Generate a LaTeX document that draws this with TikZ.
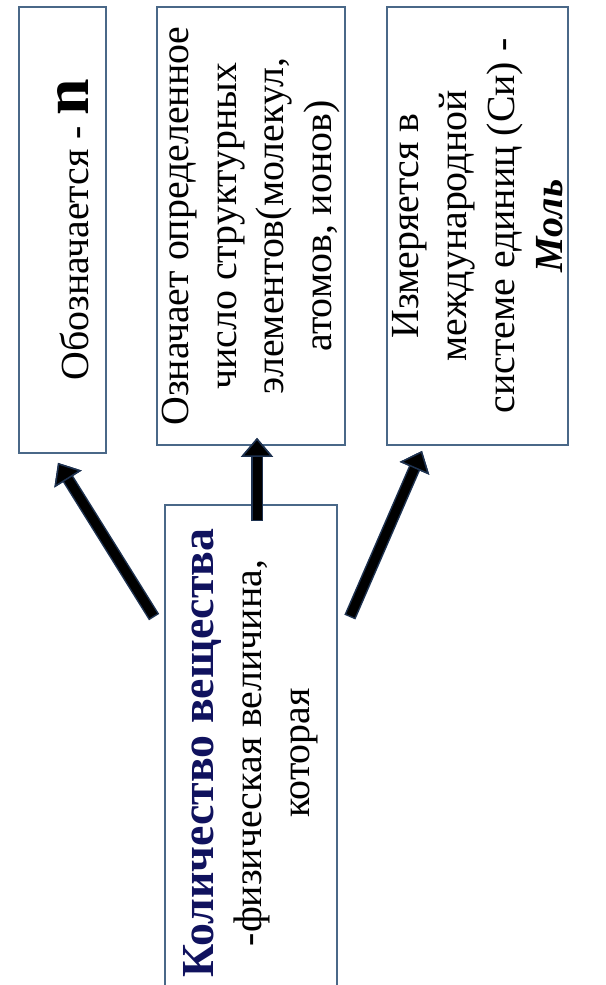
\documentclass[tikz,border=0pt]{standalone}
\usepackage{fontspec}
\setmainfont{Liberation Serif}
\usetikzlibrary{arrows.meta}
\definecolor{boxline}{HTML}{4A6888}
\definecolor{titlenavy}{HTML}{10125E}
\definecolor{arrowline}{HTML}{1E3250}

\begin{document}
\begin{tikzpicture}[
    x=1bp, y=-1bp,
    every node/.style={font=\fontsize{40}{48}\selectfont},
    card/.style={draw=boxline, line width=1.8bp, fill=white, rotate=90,
                 align=center, inner sep=0pt},
    bigarrow/.style={draw=black, line width=9bp, shorten <=1.5bp,
      -{Triangle[length=19bp, width=32bp, line width=1.5bp, color=arrowline, fill=black]},
      preaction={draw=arrowline, line width=12bp, shorten <=0pt,
        -{Triangle[length=19bp, width=32bp, line width=1.5bp, color=arrowline, fill=arrowline]}}},
  ]
  \useasboundingbox (0,0) rectangle (606,985);
  \clip (0,0) rectangle (606,985);

  \node[card, minimum width=496bp, minimum height=172bp] (qty) at (251,753)
    {{\fontsize{46}{48}\selectfont\bfseries\color{titlenavy}Количество вещества}\\
     -физическая величина,\\которая};
  \node[card, minimum width=446bp, minimum height=87bp, text height=51bp, text depth=0pt]
    (sym) at (62.5,230)
    {Обозначается - {\fontsize{66}{48}\selectfont\bfseries n}};
  \node[card, minimum width=438bp, minimum height=188bp] (mean) at (251,226)
    {Означает определенное\\число структурных\\элементов(молекул,\\атомов, ионов)};
  \node[card, minimum width=438bp, minimum height=181bp] (unit) at (477.5,226)
    {Измеряется в\\международной\\системе единиц (Си) -\\{\bfseries\itshape Моль}};

  \draw[bigarrow] ([xshift=-10bp, yshift=-113bp]qty.north east) -- ([xshift=-4.5bp, yshift=-9bp]sym.west);
  \draw[bigarrow] ([xshift=6bp, yshift=-17bp]qty.east) -- ([xshift=6bp, yshift=8bp]mean.west);
  \draw[bigarrow] ([xshift=12bp, yshift=-113bp]qty.south east) -- ([xshift=-55.5bp, yshift=-5bp]unit.west);
\end{tikzpicture}
\end{document}
